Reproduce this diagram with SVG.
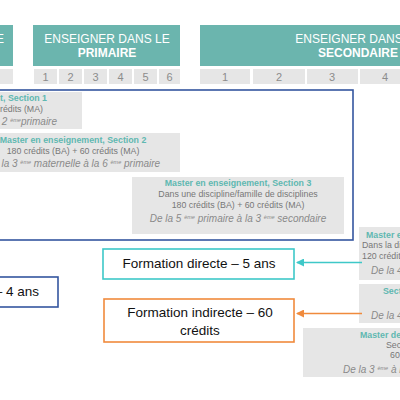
<svg xmlns="http://www.w3.org/2000/svg" width="400" height="400" viewBox="0 0 400 400">
<style>
  .hdr { fill: #6bb5ae; }
  .hdrt { font-family: "Liberation Sans", Arial, sans-serif; font-size: 12px; fill: #ffffff; text-anchor: middle; }
  .b { font-weight: bold; }
  .cell { fill: #e6e6e6; }
  .num { font-family: "Liberation Sans", Arial, sans-serif; font-size: 11px; fill: #8c8c8c; text-anchor: middle; }
  .gbox { fill: #e6e6e6; }
  .tt { font-family: "Liberation Sans", Arial, sans-serif; font-size: 8.8px; font-weight: bold; fill: #5fb8b1; }
  .bt { font-family: "Liberation Sans", Arial, sans-serif; font-size: 8.8px; fill: #777777; }
  .it { font-family: "Liberation Sans", Arial, sans-serif; font-size: 10px; font-style: italic; fill: #8a8a8a; }
  .sup { font-size: 5.5px; }
  .fbox { fill: #ffffff; stroke-width: 1.6; }
  .ft { font-family: "Liberation Sans", Arial, sans-serif; font-size: 13.5px; fill: #111111; text-anchor: middle; }
  .mid { text-anchor: middle; }
  .end { text-anchor: end; }
</style>
<defs>
  <marker id="ahTeal" markerWidth="8" markerHeight="8" refX="7" refY="4" orient="auto" markerUnits="userSpaceOnUse">
    <path d="M0,0 L8,4 L0,8 Z" fill="#3ec8c8"/>
  </marker>
  <marker id="ahOrange" markerWidth="8" markerHeight="8" refX="7" refY="4" orient="auto" markerUnits="userSpaceOnUse">
    <path d="M0,0 L8,4 L0,8 Z" fill="#f08a3c"/>
  </marker>
</defs>
<rect x="0" y="0" width="400" height="400" fill="#ffffff"/>

<g id="header-maternel">
  <rect class="hdr" x="-150" y="25" width="163" height="41"/>
  <text class="hdrt end" x="4" y="43">ENSEIGNER DANS LE</text>
  <rect class="cell" x="-20" y="69" width="33" height="15"/>
</g>

<g id="header-primaire">
  <rect class="hdr" x="33" y="25" width="147" height="41"/>
  <text class="hdrt" x="107" y="43">ENSEIGNER DANS LE</text>
  <text class="hdrt b" x="107" y="57">PRIMAIRE</text>
  <rect class="cell" x="34" y="69" width="23" height="15"/>
  <rect class="cell" x="59" y="69" width="23" height="15"/>
  <rect class="cell" x="84" y="69" width="23" height="15"/>
  <rect class="cell" x="109" y="69" width="23" height="15"/>
  <rect class="cell" x="134" y="69" width="23" height="15"/>
  <rect class="cell" x="159" y="69" width="21" height="15"/>
  <text class="num" x="45.5" y="81">1</text>
  <text class="num" x="70.5" y="81">2</text>
  <text class="num" x="95.5" y="81">3</text>
  <text class="num" x="120.5" y="81">4</text>
  <text class="num" x="145.5" y="81">5</text>
  <text class="num" x="169.5" y="81">6</text>
</g>

<g id="header-secondaire">
  <rect class="hdr" x="200" y="25" width="316" height="41"/>
  <text class="hdrt" x="358" y="43">ENSEIGNER DANS LE</text>
  <text class="hdrt b" x="358" y="57">SECONDAIRE</text>
  <rect class="cell" x="200" y="69" width="50" height="15"/>
  <rect class="cell" x="253" y="69" width="52" height="15"/>
  <rect class="cell" x="307" y="69" width="51" height="15"/>
  <rect class="cell" x="360" y="69" width="51" height="15"/>
  <text class="num" x="225" y="81">1</text>
  <text class="num" x="279" y="81">2</text>
  <text class="num" x="332" y="81">3</text>
  <text class="num" x="385" y="81">4</text>
</g>

<g id="section1">
  <rect class="gbox" x="-150" y="92" width="232" height="37"/>
  <text class="tt end" x="47" y="101">Master en enseignement, Section 1</text>
  <text class="bt end" x="43" y="112">180 crédits (BA) + 60 crédits (MA)</text>
  <text class="it end" x="57" y="125">De la 1 <tspan class="sup" dy="-3">ère</tspan><tspan dy="3"> maternelle à la 2 </tspan><tspan class="sup" dy="-3">ème</tspan><tspan dy="3">primaire</tspan></text>
</g>

<g id="section2">
  <rect class="gbox" x="-34" y="133" width="214" height="39"/>
  <text class="tt mid" x="73" y="143">Master en enseignement, Section 2</text>
  <text class="bt mid" x="73" y="154">180 crédits (BA) + 60 crédits (MA)</text>
  <text class="it mid" x="73" y="167">De la 3 <tspan class="sup" dy="-3">ème</tspan><tspan dy="3"> maternelle à la 6 </tspan><tspan class="sup" dy="-3">ème</tspan><tspan dy="3"> primaire</tspan></text>
</g>

<g id="section3">
  <rect class="gbox" x="132" y="177" width="212" height="57"/>
  <text class="tt mid" x="238" y="186">Master en enseignement, Section 3</text>
  <text class="bt mid" x="238" y="197">Dans une discipline/famille de disciplines</text>
  <text class="bt mid" x="238" y="208">180 crédits (BA) + 60 crédits (MA)</text>
  <text class="it mid" x="238" y="222">De la 5 <tspan class="sup" dy="-3">ème</tspan><tspan dy="3"> primaire à la 3 </tspan><tspan class="sup" dy="-3">ème</tspan><tspan dy="3"> secondaire</tspan></text>
</g>

<g id="cadre-bleu">
  <rect x="-200" y="90" width="553" height="150" fill="none" stroke="#34559f" stroke-width="1.6"/>
</g>

<g id="section4">
  <rect class="gbox" x="359" y="227" width="120" height="53"/>
  <text class="tt" x="366" y="238">Master en enseignement, Section 4</text>
  <text class="bt" x="362" y="248">Dans la discipline</text>
  <text class="bt" x="362" y="259">120 crédits (MA)</text>
  <text class="it" x="371" y="274">De la 4 <tspan class="sup" dy="-3">ème</tspan><tspan dy="3"> secondaire</tspan></text>
</g>

<g id="section4-indirecte">
  <rect class="gbox" x="359" y="284" width="120" height="39"/>
  <text class="tt" x="383" y="294">Section 4</text>
  <text class="it" x="371" y="319">De la 4 <tspan class="sup" dy="-3">ème</tspan><tspan dy="3"> secondaire</tspan></text>
</g>

<g id="master-specialisation">
  <rect class="gbox" x="303" y="328" width="176" height="49"/>
  <text class="tt" x="360" y="338">Master de spécialisation</text>
  <text class="bt" x="386" y="348">Section 4</text>
  <text class="bt" x="390" y="358">60 crédits</text>
  <text class="it" x="343" y="373">De la 3 <tspan class="sup" dy="-3">ème</tspan><tspan dy="3"> à la 6 </tspan><tspan class="sup" dy="-3">ème</tspan><tspan dy="3"> secondaire</tspan></text>
</g>

<g id="formation-4ans">
  <rect class="fbox" x="-150" y="277" width="208" height="30" stroke="#34559f"/>
  <text class="ft end" x="39" y="296">Formation – 4 ans</text>
</g>

<g id="formation-directe">
  <rect class="fbox" x="103" y="249" width="191" height="30" stroke="#3ec8c8"/>
  <text class="ft" x="199" y="268">Formation directe – 5 ans</text>
</g>

<g id="formation-indirecte">
  <rect class="fbox" x="104" y="299" width="190" height="43" stroke="#f08a3c"/>
  <text class="ft" x="200" y="317">Formation indirecte – 60</text>
  <text class="ft" x="200" y="335">crédits</text>
</g>

<g id="connectors">
  <line x1="362" y1="262.5" x2="297" y2="262.5" stroke="#3ec8c8" stroke-width="1.5" marker-end="url(#ahTeal)"/>
  <line x1="362" y1="313.5" x2="297" y2="313.5" stroke="#f08a3c" stroke-width="1.5" marker-end="url(#ahOrange)"/>
</g>
</svg>
